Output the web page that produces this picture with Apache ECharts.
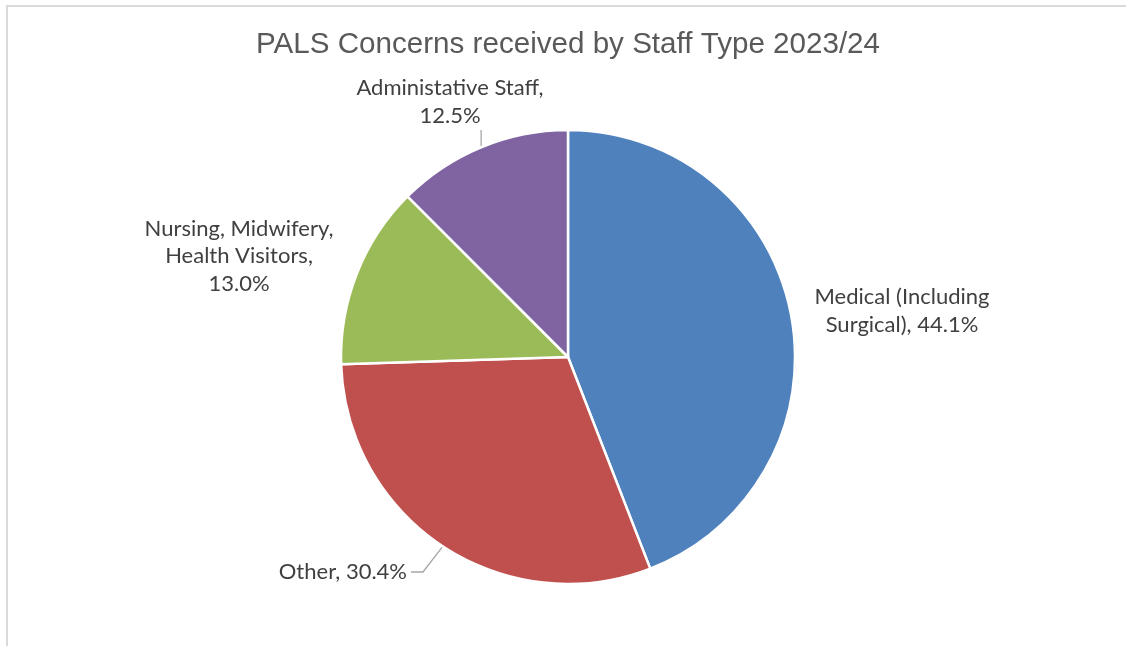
<!DOCTYPE html>
<html>
<head>
<meta charset="utf-8">
<title>PALS Concerns received by Staff Type 2023/24</title>
<script src="https://cdn.jsdelivr.net/npm/echarts@6/dist/echarts.min.js"></script>
<style>
  html, body { margin: 0; padding: 0; background: #ffffff; }
  #chart { width: 1126px; height: 646px; }
</style>
</head>
<body>
<div id="chart"></div>
<script>
// Staff groups and their share of PALS concerns (%)
const categories = [
  'Medical (Including\nSurgical)',
  'Other',
  'Nursing, Midwifery,\nHealth Visitors',
  'Administative Staff'
];
const shares = [44.1, 30.4, 13.0, 12.5];
const colors = ['#4f81bd', '#c0504d', '#9bbb59', '#8064a2'];

// Where each data label sits, how it wraps and how its leader line runs
const labelSpots = [
  { x: 902, y: 311, align: 'center', sep: ', ', line: false },
  { x: 407, y: 572, align: 'right', sep: ', ', line: true, elbow: [423, 572], end: [411, 572] },
  { x: 239, y: 256, align: 'center', sep: ',\n', line: false },
  { x: 450, y: 102, align: 'center', sep: ',\n', line: true, elbow: null, endY: 130 }
];

const chart = echarts.init(document.getElementById('chart'), null, { renderer: 'canvas' });

const pieData = categories.map((name, i) => ({
  name: name,
  value: shares[i],
  itemStyle: { color: colors[i] }
}));

chart.setOption({
  backgroundColor: '#ffffff',
  animation: false,
  title: {
    text: 'PALS Concerns received by Staff Type 2023/24',
    left: 251,
    top: 25,
    textStyle: {
      fontFamily: 'Liberation Sans, Arial, sans-serif',
      fontSize: 29.6,
      fontWeight: 'normal',
      color: '#595959'
    }
  },
  graphic: [{
    type: 'rect',
    silent: true,
    shape: { x: 7, y: 6, width: 1300, height: 800 },
    style: { fill: 'none', stroke: '#d9d9d9', lineWidth: 2 }
  }],
  series: [{
    type: 'pie',
    center: [568, 357],
    radius: 227,
    startAngle: 90,
    clockwise: true,
    data: pieData,
    itemStyle: { borderColor: '#ffffff', borderWidth: 2.5 },
    label: {
      show: true,
      position: 'outside',
      formatter: (p) => p.name + labelSpots[p.dataIndex].sep + p.value.toFixed(1) + '%',
      fontFamily: 'Lato, Open Sans, sans-serif',
      fontSize: 22,
      lineHeight: 27.5,
      color: '#404040'
    },
    labelLine: {
      show: true,
      lineStyle: { color: '#a6a6a6', width: 1.3 }
    },
    labelLayout: function (p) {
      const s = labelSpots[p.dataIndex];
      const out = { x: s.x, y: s.y, align: s.align, verticalAlign: 'middle', hideOverlap: false };
      const start = p.labelLinePoints ? p.labelLinePoints[0] : null;
      if (s.line && start) {
        if (s.elbow) {
          out.labelLinePoints = [start, s.elbow, s.end];
        } else {
          out.labelLinePoints = [start, [start[0], s.endY], [start[0], s.endY]];
        }
      } else {
        out.labelLinePoints = start ? [start, start, start] : undefined;
      }
      return out;
    }
  }]
});
</script>
</body>
</html>
